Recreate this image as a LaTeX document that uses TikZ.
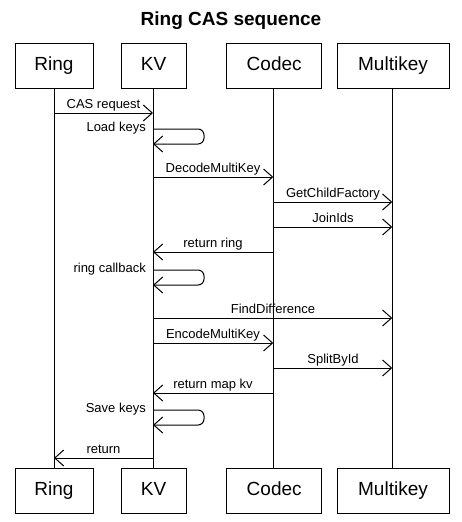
\documentclass[tikz,border=0pt]{standalone}
\usepackage{fontspec}
\setmainfont{Liberation Sans}
\usetikzlibrary{arrows.meta}
\begin{document}
\begin{tikzpicture}[x=1pt,y=-1pt,
  actor/.style={draw, line width=1pt, minimum height=45pt, inner xsep=0pt, text height=14pt, text depth=3.6pt, font=\fontsize{19}{22}\selectfont},
  life/.style={line width=1pt},
  msg/.style={line width=1pt, -{Straight Barb[length=9pt,width=16pt,line width=1pt]}},
  selfmsg/.style={msg, rounded corners=6pt},
  lbl/.style={anchor=base, inner sep=0pt, font=\fontsize{13}{15}\selectfont},
  slbl/.style={anchor=mid east, inner sep=0pt, font=\fontsize{13}{15}\selectfont},
  ttl/.style={anchor=base, inner sep=0pt, font=\fontsize{19}{22}\selectfont\bfseries}]
\useasboundingbox (0,0) rectangle (461,522);
\node[ttl] (title) at (231,25.7) {Ring CAS sequence};
% top actors
\node[actor, minimum width=78pt] (ringT) at (54,65.5) {Ring};
\node[actor, minimum width=65pt] (kvT) at (153.5,65.5) {KV};
\node[actor, minimum width=95pt] (codecT) at (274.2,65.5) {Codec};
\node[actor, minimum width=112pt] (mkT) at (393,65.5) {Multikey};
% bottom actors
\node[actor, minimum width=78pt] (ringB) at (54,490.5) {Ring};
\node[actor, minimum width=65pt] (kvB) at (153.5,490.5) {KV};
\node[actor, minimum width=95pt] (codecB) at (274.2,490.5) {Codec};
\node[actor, minimum width=112pt] (mkB) at (393,490.5) {Multikey};
% lifelines
\coordinate (rL) at (54,0);
\coordinate (kL) at (153,0);
\coordinate (cL) at (273.3,0);
\coordinate (mL) at (392.3,0);
\draw[life] (rL |- ringT.south) -- (rL |- ringB.north);
\draw[life] (kL |- kvT.south) -- (kL |- kvB.north);
\draw[life] (cL |- codecT.south) -- (cL |- codecB.north);
\draw[life] (mL |- mkT.south) -- (mL |- mkB.north);
% messages
\draw[msg] (rL |- 0,113) -- (kL |- 0,113);
\node[lbl] (l1) at (103.5,108.5) {CAS request};
\draw[selfmsg] (kL |- 0,129) -- ++(51,0) -- ++(0,15) -- (kL |- 0,144);
\node[slbl] (l2) at (146,129) {Load keys};
\draw[msg] (kL |- 0,177) -- (cL |- 0,177);
\node[lbl] (l3) at (213,172.5) {DecodeMultiKey};
\draw[msg] (cL |- 0,202) -- (mL |- 0,202);
\node[lbl] (l4) at (333,197.5) {GetChildFactory};
\draw[msg] (cL |- 0,227) -- (mL |- 0,227);
\node[lbl] (l5) at (333,222.5) {JoinIds};
\draw[msg] (cL |- 0,252) -- (kL |- 0,252);
\node[lbl] (l6) at (213,247.5) {return ring};
\draw[selfmsg] (kL |- 0,270) -- ++(51,0) -- ++(0,15) -- (kL |- 0,285);
\node[slbl] (l7) at (146,270) {ring callback};
\draw[msg] (kL |- 0,318) -- (mL |- 0,318);
\node[lbl] (l8) at (273,313.5) {FindDifference};
\draw[msg] (kL |- 0,343) -- (cL |- 0,343);
\node[lbl] (l9) at (213,338.5) {EncodeMultiKey};
\draw[msg] (cL |- 0,368) -- (mL |- 0,368);
\node[lbl] (l10) at (333,363.5) {SplitById};
\draw[msg] (cL |- 0,393) -- (kL |- 0,393);
\node[lbl] (l11) at (213,388.5) {return map kv};
\draw[selfmsg] (kL |- 0,410) -- ++(51,0) -- ++(0,15) -- (kL |- 0,425);
\node[slbl] (l12) at (146,410) {Save keys};
\draw[msg] (kL |- 0,458) -- (rL |- 0,458);
\node[lbl] (l13) at (103.5,453.5) {return};
\end{tikzpicture}
\end{document}
